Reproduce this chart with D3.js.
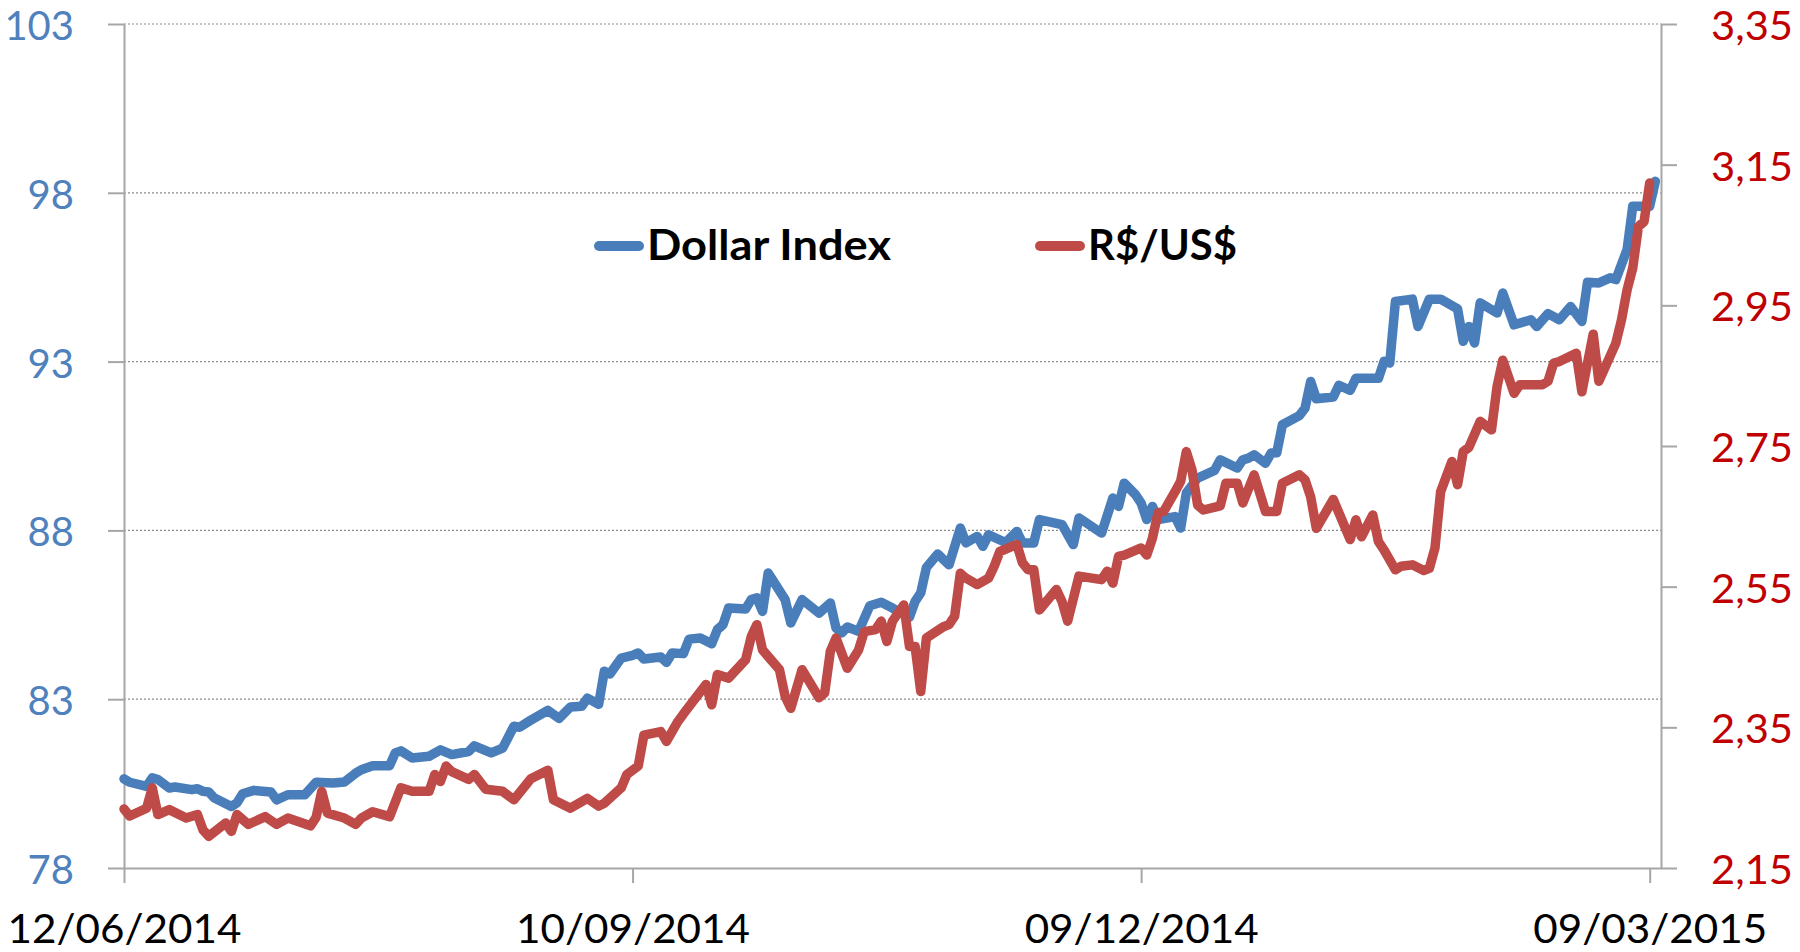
<!DOCTYPE html>
<html><head><meta charset="utf-8">
<script src="https://cdn.jsdelivr.net/npm/d3@7"></script>
<style>html,body{margin:0;padding:0;background:#fff;overflow:hidden}</style>
</head><body><svg id="chart" width="1800" height="952"></svg>
<script>
// ---------------- data ----------------
const seriesNames = ["Dollar Index", "R$/US$"];
const dateTicks = ["2014-06-12", "2014-09-10", "2014-12-09", "2015-03-09"];
const leftTicks = [78, 83, 88, 93, 98, 103];
const rightTicks = [2.15, 2.35, 2.55, 2.75, 2.95, 3.15, 3.35];

const dollarDates = ["2014-06-12","2014-06-13","2014-06-16","2014-06-17","2014-06-18","2014-06-20","2014-06-21","2014-06-24","2014-06-25","2014-06-26","2014-06-27","2014-06-28","2014-07-01","2014-07-02","2014-07-03","2014-07-05","2014-07-08","2014-07-09","2014-07-11","2014-07-14","2014-07-16","2014-07-19","2014-07-21","2014-07-23","2014-07-24","2014-07-26","2014-07-29","2014-07-30","2014-07-31","2014-08-02","2014-08-05","2014-08-07","2014-08-09","2014-08-12","2014-08-13","2014-08-16","2014-08-18","2014-08-20","2014-08-21","2014-08-23","2014-08-26","2014-08-28","2014-08-30","2014-09-01","2014-09-02","2014-09-04","2014-09-05","2014-09-06","2014-09-08","2014-09-10","2014-09-11","2014-09-12","2014-09-15","2014-09-16","2014-09-17","2014-09-19","2014-09-20","2014-09-22","2014-09-24","2014-09-25","2014-09-26","2014-09-27","2014-09-30","2014-10-01","2014-10-02","2014-10-03","2014-10-04","2014-10-07","2014-10-08","2014-10-10","2014-10-13","2014-10-15","2014-10-16","2014-10-17","2014-10-18","2014-10-20","2014-10-22","2014-10-24","2014-10-26","2014-10-27","2014-10-29","2014-10-30","2014-10-31","2014-11-01","2014-11-03","2014-11-05","2014-11-07","2014-11-08","2014-11-10","2014-11-11","2014-11-12","2014-11-15","2014-11-17","2014-11-18","2014-11-20","2014-11-21","2014-11-25","2014-11-27","2014-11-28","2014-12-02","2014-12-04","2014-12-05","2014-12-06","2014-12-08","2014-12-09","2014-12-10","2014-12-11","2014-12-12","2014-12-15","2014-12-16","2014-12-17","2014-12-19","2014-12-22","2014-12-23","2014-12-26","2014-12-27","2014-12-28","2014-12-29","2014-12-31","2015-01-01","2015-01-02","2015-01-03","2015-01-06","2015-01-07","2015-01-08","2015-01-09","2015-01-12","2015-01-13","2015-01-15","2015-01-16","2015-01-20","2015-01-21","2015-01-22","2015-01-23","2015-01-26","2015-01-27","2015-01-29","2015-01-31","2015-02-03","2015-02-04","2015-02-05","2015-02-06","2015-02-07","2015-02-10","2015-02-11","2015-02-13","2015-02-16","2015-02-17","2015-02-19","2015-02-21","2015-02-23","2015-02-25","2015-02-26","2015-02-28","2015-03-02","2015-03-03","2015-03-05","2015-03-06","2015-03-09","2015-03-10"];
const dollarValues = [80.64,80.54,80.42,80.67,80.62,80.37,80.40,80.32,80.35,80.27,80.25,80.07,79.82,79.93,80.20,80.30,80.25,80.02,80.17,80.17,80.54,80.52,80.55,80.81,80.91,81.03,81.03,81.41,81.47,81.26,81.31,81.50,81.36,81.45,81.62,81.41,81.55,82.20,82.17,82.38,82.67,82.43,82.77,82.79,83.03,82.85,83.83,83.75,84.22,84.30,84.37,84.19,84.25,84.09,84.37,84.35,84.78,84.81,84.64,85.06,85.21,85.70,85.67,85.95,86.00,85.60,86.74,85.95,85.26,85.95,85.55,85.85,85.11,84.96,85.14,85.01,85.77,85.87,85.70,85.60,85.43,85.90,86.15,86.90,87.30,86.98,88.07,87.63,87.82,87.53,87.87,87.64,87.97,87.63,87.63,88.32,88.17,87.58,88.37,87.92,88.96,88.71,89.40,89.06,88.81,88.32,88.71,88.32,88.41,88.07,89.11,89.55,89.78,90.09,89.85,90.09,90.14,90.24,89.99,90.29,90.30,91.13,91.40,91.62,92.41,91.90,91.95,92.30,92.15,92.51,92.51,93.01,92.96,94.78,94.85,94.04,94.85,94.85,94.56,93.60,94.04,93.55,94.74,94.44,95.03,94.09,94.24,94.04,94.42,94.24,94.63,94.19,95.35,95.33,95.48,95.43,96.32,97.60,97.60,98.34];

const brlDates = ["2014-06-12","2014-06-13","2014-06-16","2014-06-17","2014-06-18","2014-06-20","2014-06-23","2014-06-25","2014-06-26","2014-06-27","2014-06-30","2014-07-01","2014-07-02","2014-07-04","2014-07-07","2014-07-09","2014-07-11","2014-07-15","2014-07-16","2014-07-17","2014-07-18","2014-07-21","2014-07-23","2014-07-24","2014-07-26","2014-07-29","2014-07-31","2014-08-02","2014-08-05","2014-08-06","2014-08-07","2014-08-08","2014-08-09","2014-08-12","2014-08-13","2014-08-15","2014-08-18","2014-08-20","2014-08-23","2014-08-26","2014-08-27","2014-08-30","2014-09-02","2014-09-04","2014-09-05","2014-09-08","2014-09-09","2014-09-11","2014-09-12","2014-09-15","2014-09-16","2014-09-18","2014-09-19","2014-09-23","2014-09-24","2014-09-25","2014-09-27","2014-09-30","2014-10-01","2014-10-02","2014-10-03","2014-10-06","2014-10-07","2014-10-08","2014-10-10","2014-10-13","2014-10-14","2014-10-15","2014-10-16","2014-10-18","2014-10-20","2014-10-21","2014-10-23","2014-10-24","2014-10-25","2014-10-26","2014-10-28","2014-10-29","2014-10-30","2014-10-31","2014-11-01","2014-11-04","2014-11-05","2014-11-06","2014-11-07","2014-11-08","2014-11-10","2014-11-12","2014-11-13","2014-11-14","2014-11-17","2014-11-18","2014-11-19","2014-11-20","2014-11-21","2014-11-24","2014-11-25","2014-11-26","2014-11-28","2014-12-02","2014-12-03","2014-12-04","2014-12-05","2014-12-06","2014-12-09","2014-12-10","2014-12-11","2014-12-12","2014-12-13","2014-12-15","2014-12-16","2014-12-17","2014-12-18","2014-12-19","2014-12-20","2014-12-23","2014-12-24","2014-12-26","2014-12-27","2014-12-29","2014-12-31","2015-01-02","2015-01-03","2015-01-06","2015-01-07","2015-01-08","2015-01-09","2015-01-12","2015-01-15","2015-01-16","2015-01-17","2015-01-19","2015-01-20","2015-01-21","2015-01-23","2015-01-24","2015-01-26","2015-01-28","2015-01-29","2015-01-30","2015-01-31","2015-02-02","2015-02-03","2015-02-04","2015-02-05","2015-02-07","2015-02-09","2015-02-10","2015-02-11","2015-02-13","2015-02-14","2015-02-18","2015-02-19","2015-02-20","2015-02-21","2015-02-24","2015-02-25","2015-02-27","2015-02-28","2015-03-03","2015-03-04","2015-03-05","2015-03-06","2015-03-07","2015-03-08","2015-03-09"];
const brlValues = [2.234,2.224,2.235,2.264,2.226,2.233,2.221,2.226,2.204,2.195,2.214,2.202,2.226,2.212,2.223,2.212,2.221,2.210,2.222,2.259,2.228,2.221,2.212,2.221,2.230,2.223,2.264,2.259,2.259,2.283,2.273,2.295,2.287,2.276,2.283,2.262,2.259,2.247,2.277,2.289,2.247,2.235,2.249,2.238,2.242,2.264,2.283,2.295,2.339,2.344,2.330,2.358,2.369,2.411,2.382,2.425,2.420,2.446,2.479,2.496,2.460,2.432,2.394,2.377,2.432,2.392,2.399,2.458,2.477,2.434,2.460,2.486,2.489,2.501,2.472,2.501,2.524,2.465,2.465,2.401,2.477,2.493,2.496,2.508,2.569,2.562,2.553,2.562,2.579,2.600,2.610,2.584,2.574,2.574,2.517,2.546,2.529,2.501,2.565,2.560,2.572,2.555,2.593,2.595,2.605,2.595,2.619,2.655,2.657,2.685,2.700,2.742,2.716,2.666,2.659,2.665,2.697,2.697,2.669,2.709,2.657,2.657,2.697,2.709,2.702,2.678,2.633,2.674,2.617,2.645,2.621,2.652,2.614,2.602,2.574,2.579,2.581,2.573,2.576,2.605,2.685,2.728,2.695,2.742,2.748,2.785,2.773,2.835,2.872,2.825,2.837,2.837,2.842,2.868,2.870,2.882,2.827,2.909,2.842,2.896,2.929,2.972,3.003,3.062,3.069,3.124];

// ---------------- layout ----------------
const plot = {left: 124, right: 1661, top: 24, bottom: 868};
const blue = "#4A7EBB", red = "#BE4B48";
const axisGray = "#A6A6A6";
const FONT = "Lato, 'Open Sans', sans-serif";

const parse = d3.utcParse("%Y-%m-%d");
const svg = d3.select("#chart");

const x = d3.scaleUtc()
  .domain([parse("2014-06-12"), parse("2015-03-11")])
  .range([plot.left, plot.right]);
const yL = d3.scaleLinear().domain([78, 103]).range([plot.bottom, plot.top]);
const yR = d3.scaleLinear().domain([2.15, 3.35]).range([plot.bottom, plot.top]);

// gridlines
svg.append("g").selectAll("line")
  .data(leftTicks.filter(t => t !== 78))
  .join("line")
  .attr("x1", plot.left).attr("x2", plot.right)
  .attr("y1", d => yL(d)).attr("y2", d => yL(d))
  .attr("stroke", "#8C8C8C").attr("stroke-width", 1.2)
  .attr("stroke-dasharray", "2,2");

function styleAxis(g) {
  g.select(".domain").attr("stroke", axisGray).attr("stroke-width", 2);
  g.selectAll(".tick line").attr("stroke", axisGray).attr("stroke-width", 2);
}

// left axis
const gL = svg.append("g").attr("transform", `translate(${plot.left},0)`)
  .call(d3.axisLeft(yL).tickValues(leftTicks).tickSize(16).tickSizeOuter(0)
    .tickPadding(34).tickFormat(d3.format("d")));
styleAxis(gL);
gL.selectAll(".tick text").attr("fill", "#4F81BD").attr("font-family", FONT)
  .attr("font-size", 40).attr("dy", 15.5);

// right axis
const fmtR = d => d3.format(".2f")(d).replace(".", ",");
const gR = svg.append("g").attr("transform", `translate(${plot.right},0)`)
  .call(d3.axisRight(yR).tickValues(rightTicks).tickSize(16).tickSizeOuter(0)
    .tickPadding(34).tickFormat(fmtR));
styleAxis(gR);
gR.selectAll(".tick text").attr("fill", "#C00000").attr("font-family", FONT)
  .attr("font-size", 40).attr("dy", 15.5)
  .attr("textLength", 82).attr("lengthAdjust", "spacingAndGlyphs");

// bottom axis
const gB = svg.append("g").attr("transform", `translate(0,${plot.bottom})`)
  .call(d3.axisBottom(x).tickValues(dateTicks.map(parse)).tickSize(15).tickSizeOuter(0)
    .tickFormat(d3.utcFormat("%d/%m/%Y")));
styleAxis(gB);
gB.selectAll(".tick text").attr("fill", "#000").attr("font-family", FONT)
  .attr("font-size", 41).attr("y", 75).attr("dy", 0)
  .attr("textLength", 234).attr("lengthAdjust", "spacingAndGlyphs");

// lines
const dollar = dollarDates.map((d, i) => ({date: parse(d), v: dollarValues[i]}));
const brl = brlDates.map((d, i) => ({date: parse(d), v: brlValues[i]}));

const lineL = d3.line().x(d => x(d.date)).y(d => yL(d.v));
const lineR = d3.line().x(d => x(d.date)).y(d => yR(d.v));

svg.append("path").datum(dollar).attr("d", lineL)
  .attr("fill", "none").attr("stroke", blue).attr("stroke-width", 9.5)
  .attr("stroke-linejoin", "round").attr("stroke-linecap", "round");
svg.append("path").datum(brl).attr("d", lineR)
  .attr("fill", "none").attr("stroke", red).attr("stroke-width", 9.5)
  .attr("stroke-linejoin", "round").attr("stroke-linecap", "round");

// legend
const legendItems = [
  {name: seriesNames[0], color: blue, x: 599, w: 244},
  {name: seriesNames[1], color: red, x: 1040, w: 149}
];
const lg = svg.append("g");
legendItems.forEach(it => {
  lg.append("line").attr("x1", it.x).attr("x2", it.x + 40).attr("y1", 246).attr("y2", 246)
    .attr("stroke", it.color).attr("stroke-width", 10).attr("stroke-linecap", "round");
  lg.append("text").attr("x", it.x + 48).attr("y", 260)
    .attr("font-family", FONT).attr("font-weight", "bold").attr("font-size", 42)
    .attr("textLength", it.w).attr("lengthAdjust", "spacingAndGlyphs")
    .attr("fill", "#000").text(it.name);
});
</script></body></html>
